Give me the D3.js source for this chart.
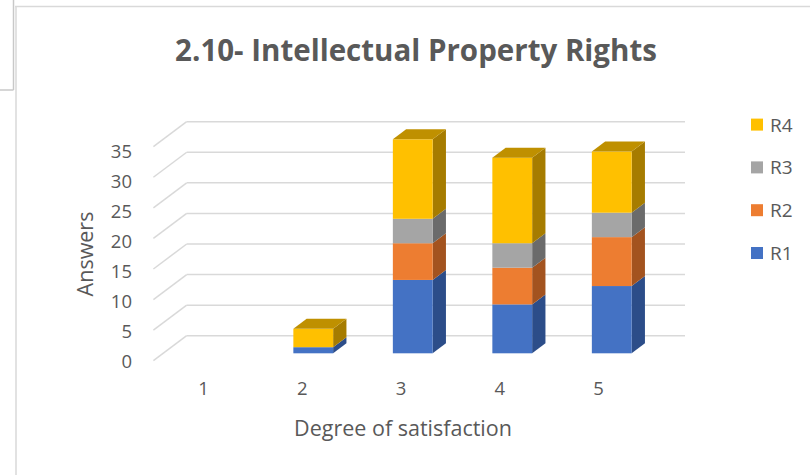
<!DOCTYPE html>
<html>
<head>
<meta charset="utf-8">
<script src="https://cdn.jsdelivr.net/npm/d3@7"></script>
<style>
  body { margin: 0; background: #fff; }
  text { font-family: 'Open Sans', 'Noto Sans', sans-serif; fill: #595959; }
</style>
</head>
<body>
<script>
var width = 810;
var height = 475;

// data
var categories = ['1', '2', '3', '4', '5'];
var seriesNames = ['R1', 'R2', 'R3', 'R4'];
var r1 = [0, 1, 12, 8, 11];
var r2 = [0, 0, 6, 6, 8];
var r3 = [0, 0, 4, 4, 4];
var r4 = [0, 3, 13, 14, 10];
var yTicks = [0, 5, 10, 15, 20, 25, 30, 35];

var frontColors = ['#4472c4', '#ed7d31', '#a5a5a5', '#ffc000'];
var sideColors = ['#2c4d89', '#a3531f', '#6b6b6b', '#a67c00'];
var topColors = ['#3a62a8', '#c86a2a', '#8c8c8c', '#bf9000'];

var svg = d3.select('body')
  .append('svg')
  .attr('width', width)
  .attr('height', height);

// page frame bits
svg.append('line').attr('x1', 0).attr('y1', 90).attr('x2', 13.5).attr('y2', 90)
  .attr('stroke', '#c8c8c8').attr('stroke-width', 1.5);
svg.append('line').attr('x1', 13.5).attr('y1', 0).attr('x2', 13.5).attr('y2', 90)
  .attr('stroke', '#c8c8c8').attr('stroke-width', 1.5);
svg.append('line').attr('x1', 15).attr('y1', 6.5).attr('x2', width).attr('y2', 6.5)
  .attr('stroke', '#d9d9d9').attr('stroke-width', 1.5);
svg.append('line').attr('x1', 16).attr('y1', 6).attr('x2', 16).attr('y2', height)
  .attr('stroke', '#d9d9d9').attr('stroke-width', 1.5);

// 3d box geometry
var depthX = 33.3, depthY = 25;      // floor depth
var barDX = 13.3, barDY = 10;        // bar depth
var barShiftY = 17.6;                // bar front plane below back wall
var wallLeft = 186.7, wallRight = 685;

var y = d3.scaleLinear().domain([0, 35]).range([335.7, 121.7]);
var xBar = d3.scalePoint().domain(categories).range([164, 661.5]).padding(0.5);
var barW = xBar.step() * 0.4;

// gridlines on back wall and side floor
var grid = svg.append('g');
grid.selectAll('.h').data(yTicks).enter().append('line')
  .attr('x1', wallLeft).attr('x2', wallRight)
  .attr('y1', function(d) { return y(d); })
  .attr('y2', function(d) { return y(d); })
  .attr('stroke', '#d9d9d9').attr('stroke-width', 1.5);
grid.selectAll('.d').data(yTicks).enter().append('line')
  .attr('x1', wallLeft - depthX).attr('x2', wallLeft)
  .attr('y1', function(d) { return y(d) + depthY; })
  .attr('y2', function(d) { return y(d); })
  .attr('stroke', '#d9d9d9').attr('stroke-width', 1.5);

// stacked data
var table = categories.map(function(c, i) {
  return { cat: c, R1: r1[i], R2: r2[i], R3: r3[i], R4: r4[i] };
});
var stacked = d3.stack().keys(seriesNames)(table);

function yb(v) { return y(v) + barShiftY; }

var bars = svg.append('g');
stacked.forEach(function(layer, si) {
  layer.forEach(function(seg, ci) {
    if (seg[1] - seg[0] <= 0) return;
    var x0 = xBar(categories[ci]) - barW / 2;
    var x1 = x0 + barW;
    var yTop = yb(seg[1]), yBot = yb(seg[0]);
    // side face
    bars.append('path')
      .attr('d', 'M' + x1 + ',' + yBot + 'L' + (x1 + barDX) + ',' + (yBot - barDY) +
        'L' + (x1 + barDX) + ',' + (yTop - barDY) + 'L' + x1 + ',' + yTop + 'Z')
      .attr('fill', sideColors[si]);
    // front face
    bars.append('rect')
      .attr('x', x0).attr('y', yTop)
      .attr('width', barW).attr('height', yBot - yTop)
      .attr('fill', frontColors[si]);
    // top face on the highest segment
    var total = r1[ci] + r2[ci] + r3[ci] + r4[ci];
    if (seg[1] === total) {
      bars.append('path')
        .attr('d', 'M' + x0 + ',' + yTop + 'L' + x1 + ',' + yTop +
          'L' + (x1 + barDX) + ',' + (yTop - barDY) + 'L' + (x0 + barDX) + ',' + (yTop - barDY) + 'Z')
        .attr('fill', topColors[si]);
    }
  });
});

// axes (labels only)
var yLabel = d3.scaleLinear().domain([0, 35]).range([361.7, 151.7]);
var yAxis = svg.append('g')
  .attr('transform', 'translate(141,0)')
  .call(d3.axisLeft(yLabel).tickValues(yTicks).tickSize(0).tickPadding(9));
yAxis.select('.domain').remove();
yAxis.selectAll('text').style('font-size', '18.5px').style('font-family', null).attr('fill', '#595959');

var xLabel = d3.scalePoint().domain(categories).range([153.6, 647.4]).padding(0.5);
var xAxis = svg.append('g')
  .attr('transform', 'translate(0,382)')
  .call(d3.axisBottom(xLabel).tickSize(0).tickPadding(0));
xAxis.select('.domain').remove();
xAxis.selectAll('text').style('font-size', '18.5px').style('font-family', null).attr('fill', '#595959');

// titles
svg.append('text')
  .attr('x', 416).attr('y', 61)
  .attr('text-anchor', 'middle')
  .style('font-size', '29.5px').style('font-weight', 'bold')
  .text('2.10- Intellectual Property Rights');

svg.append('text')
  .attr('x', 403).attr('y', 436)
  .attr('text-anchor', 'middle')
  .style('font-size', '21.5px')
  .text('Degree of satisfaction');

svg.append('text')
  .attr('transform', 'translate(93,254) rotate(-90)')
  .attr('text-anchor', 'middle')
  .style('font-size', '21.5px')
  .text('Answers');

// legend
var legend = svg.append('g')
  .selectAll('g')
  .data(seriesNames.slice().reverse())
  .enter()
  .append('g')
  .attr('transform', function(d, i) { return 'translate(751,' + (124.6 + i * 42.8) + ')'; });

legend.append('rect')
  .attr('x', 0).attr('y', -6)
  .attr('width', 12).attr('height', 12)
  .attr('fill', function(d) { return frontColors[seriesNames.indexOf(d)]; });

legend.append('text')
  .attr('x', 19).attr('y', 7)
  .style('font-size', '19px')
  .text(function(d) { return d; });
</script>
</body>
</html>
